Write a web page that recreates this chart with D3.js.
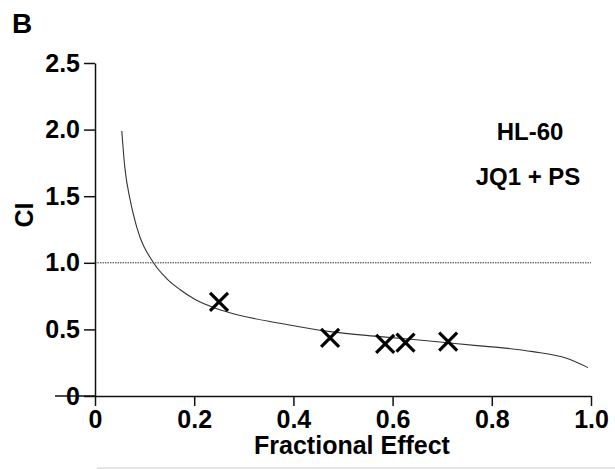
<!DOCTYPE html>
<html>
<head>
<meta charset="utf-8">
<script src="https://cdn.jsdelivr.net/npm/d3@7"></script>
<style>
  body { margin: 0; background: #fff; }
  text { font-family: "Liberation Sans", Arial, sans-serif; font-weight: bold; fill: #000; }
</style>
</head>
<body>
<script>
// measured combination points (fa, CI)
const pointFa = [0.25, 0.474, 0.585, 0.626, 0.712];
const pointCI = [0.707, 0.436, 0.391, 0.401, 0.409];

// fa-CI simulation curve
const curveFa = [0.054, 0.060, 0.071, 0.084, 0.118, 0.145, 0.171, 0.202, 0.239, 0.272,
  0.373, 0.474, 0.575, 0.675, 0.776, 0.817, 0.883, 0.951, 0.994];
const curveCI = [1.99, 1.72, 1.47, 1.27, 1.0, 0.88, 0.80, 0.725, 0.665, 0.625,
  0.546, 0.483, 0.446, 0.413, 0.376, 0.363, 0.333, 0.283, 0.213];

const xTicks = [0, 0.2, 0.4, 0.6, 0.8, 1.0];
const xTickLabels = ["0", "0.2", "0.4", "0.6", "0.8", "1.0"];
const yTicks = [0, 0.5, 1.0, 1.5, 2.0, 2.5];
const yTickLabels = ["0", "0.5", "1.0", "1.5", "2.0", "2.5"];

const width = 615,
  height = 469;

const x = d3.scaleLinear([0, 1], [95, 591]);
const y = d3.scaleLinear([0, 2.5], [396, 63]);

const svg = d3.select("body").append("svg")
  .attr("width", width)
  .attr("height", height);

// panel letter
svg.append("text")
  .attr("x", 12)
  .attr("y", 33)
  .style("font-size", "28px")
  .text("B");

// reference line CI = 1
svg.append("line")
  .attr("x1", x(0)).attr("x2", x(1))
  .attr("y1", y(1)).attr("y2", y(1))
  .attr("stroke", "#333")
  .attr("stroke-width", 1)
  .attr("stroke-dasharray", "1.5,1");

// curve
const curve = d3.line()
  .x((d, i) => x(curveFa[i]))
  .y(d => y(d))
  .curve(d3.curveMonotoneX);

svg.append("path")
  .attr("d", curve(curveCI))
  .attr("fill", "none")
  .attr("stroke", "#333")
  .attr("stroke-width", 1.1);

// x-axis
const xAxis = svg.append("g")
  .attr("transform", "translate(0," + y(0) + ")")
  .call(d3.axisBottom(x)
    .tickValues(xTicks)
    .tickFormat((d, i) => xTickLabels[i])
    .tickSize(10)
    .tickSizeOuter(0)
    .tickPadding(4));

// y-axis
const yAxis = svg.append("g")
  .attr("transform", "translate(" + x(0) + ",0)")
  .call(d3.axisLeft(y)
    .tickValues(yTicks)
    .tickFormat((d, i) => yTickLabels[i])
    .tickSize(11)
    .tickSizeOuter(0)
    .tickPadding(4));

[xAxis, yAxis].forEach(g => {
  g.select(".domain").attr("stroke", "#111").attr("stroke-width", 1.5);
  g.selectAll(".tick line").attr("stroke", "#111").attr("stroke-width", 1.5);
  g.selectAll(".tick text")
    .attr("fill", "#000")
    .style("font-size", "25px")
    .style("font-family", "'Liberation Sans', Arial, sans-serif")
    .style("font-weight", "bold");
});

// x-axis line carries on through the "0" label on the left
svg.append("line")
  .attr("x1", 55).attr("x2", x(0))
  .attr("y1", y(0)).attr("y2", y(0))
  .attr("stroke", "#111")
  .attr("stroke-width", 1.5);

// data markers
const r = 9;
const marks = svg.append("g")
  .selectAll("g")
  .data(pointCI)
  .join("g")
    .attr("transform", (d, i) => "translate(" + x(pointFa[i]) + "," + y(d) + ")");

marks.append("path")
  .attr("d", "M" + -r + "," + -r + "L" + r + "," + r + "M" + -r + "," + r + "L" + r + "," + -r)
  .attr("stroke", "#000")
  .attr("stroke-width", 3.2)
  .attr("fill", "none");

// axis titles
svg.append("text")
  .attr("x", 352)
  .attr("y", 454)
  .attr("text-anchor", "middle")
  .style("font-size", "25px")
  .text("Fractional Effect");

svg.append("text")
  .attr("transform", "translate(33,215) rotate(-90)")
  .attr("text-anchor", "middle")
  .style("font-size", "25px")
  .text("CI");

// annotations
svg.append("text")
  .attr("x", 530)
  .attr("y", 140)
  .attr("text-anchor", "middle")
  .style("font-size", "24px")
  .text("HL-60");

svg.append("text")
  .attr("x", 528)
  .attr("y", 185)
  .attr("text-anchor", "middle")
  .style("font-size", "24px")
  .text("JQ1 + PS");

// faint rule along the bottom edge
svg.append("line")
  .attr("x1", 97).attr("x2", width)
  .attr("y1", 468).attr("y2", 468)
  .attr("stroke", "#ddd")
  .attr("stroke-width", 1.5);
</script>
</body>
</html>
